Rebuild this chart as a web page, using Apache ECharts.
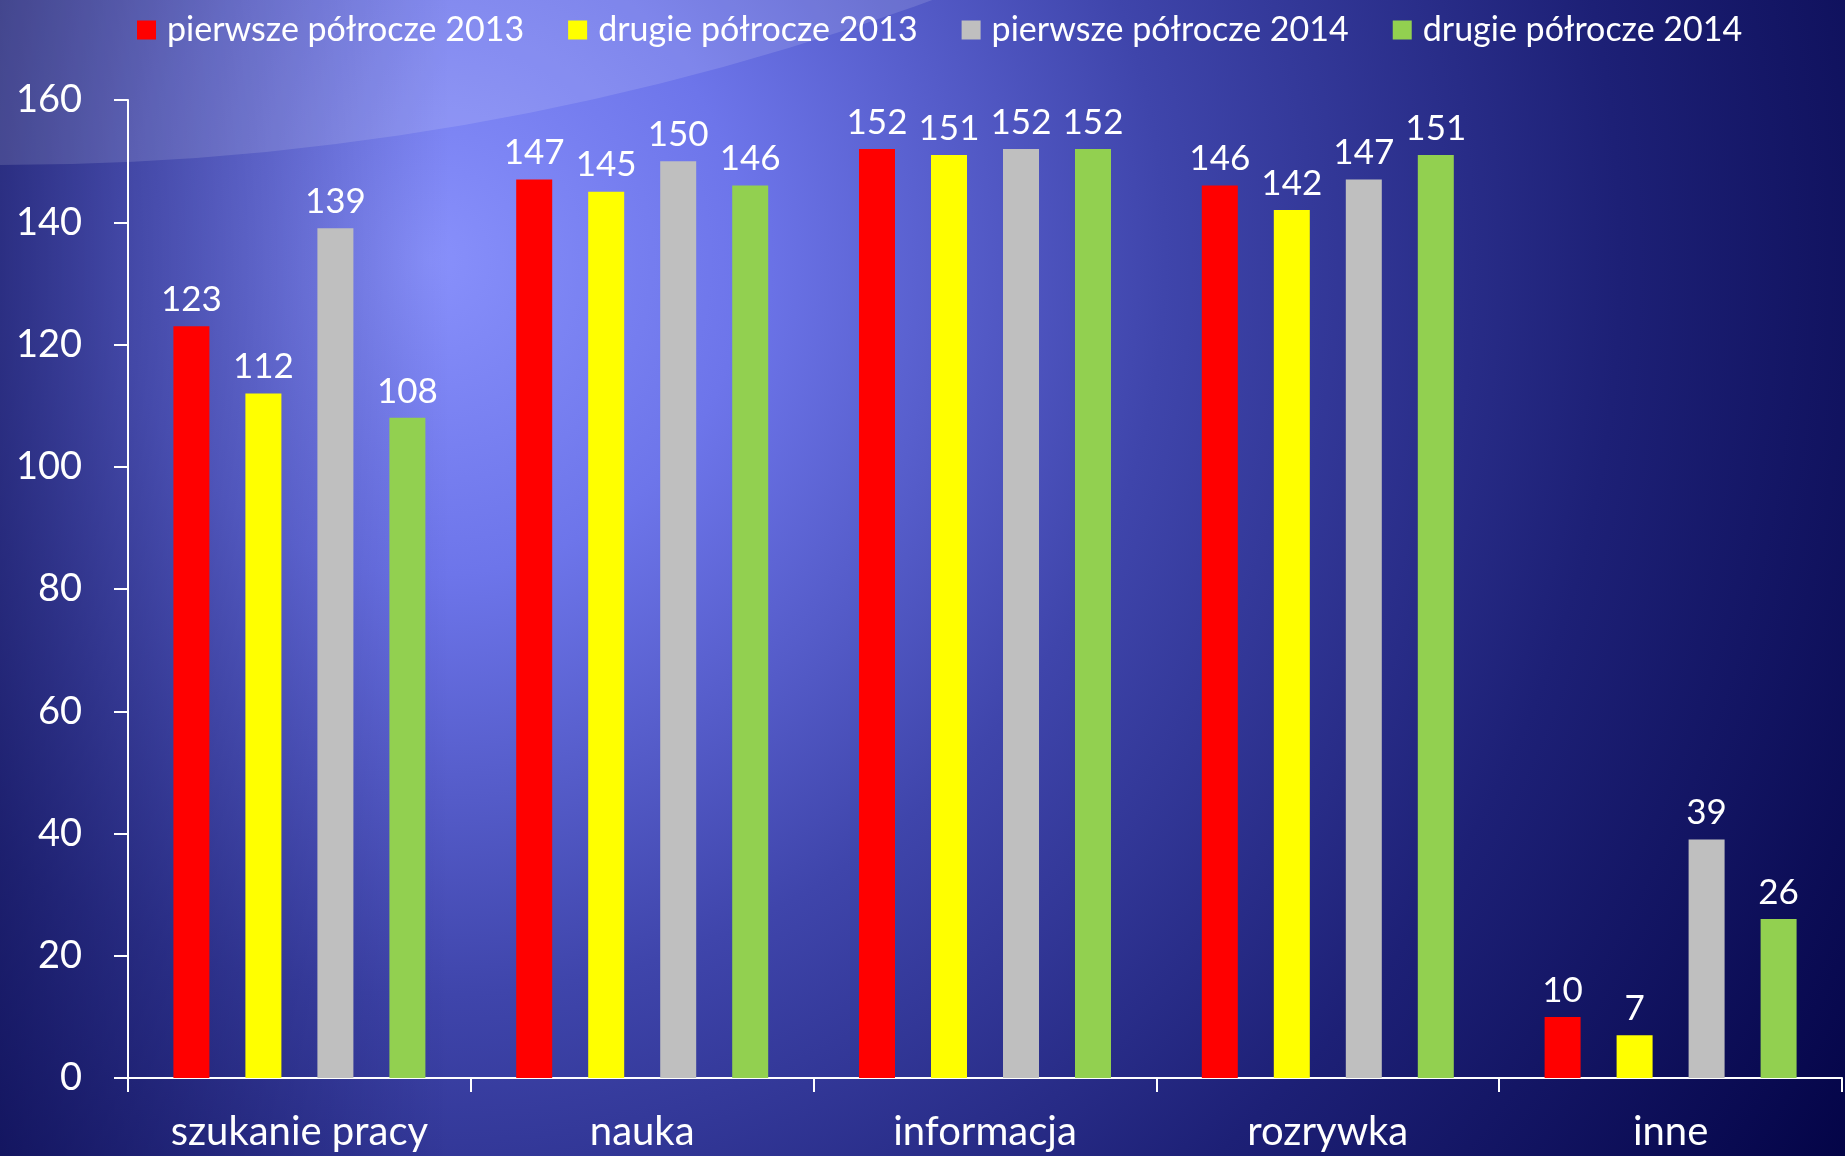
<!DOCTYPE html>
<html>
<head>
<meta charset="utf-8">
<script src="https://cdn.jsdelivr.net/npm/echarts@6/dist/echarts.min.js"></script>
<style>
html,body{margin:0;padding:0;width:1845px;height:1156px;overflow:hidden;background:#000040;}
#chart{width:1845px;height:1156px;}
</style>
</head>
<body>
<div id="chart"></div>
<script>
var categories = ['szukanie pracy', 'nauka', 'informacja', 'rozrywka', 'inne'];
var seriesNames = ['pierwsze półrocze 2013', 'drugie półrocze 2013', 'pierwsze półrocze 2014', 'drugie półrocze 2014'];
var h1_2013 = [123, 147, 152, 146, 10];
var h2_2013 = [112, 145, 151, 142, 7];
var h1_2014 = [139, 150, 152, 147, 39];
var h2_2014 = [108, 146, 152, 151, 26];
var yTicks = [0, 20, 40, 60, 80, 100, 120, 140, 160];

var colors = ['#ff0000', '#ffff00', '#bfbfbf', '#92d050'];
var seriesData = [h1_2013, h2_2013, h1_2014, h2_2014];
var FONT = 'Lato, "Open Sans", sans-serif';

var chart = echarts.init(document.getElementById('chart'));

var series = seriesNames.map(function (name, i) {
  return {
    name: name,
    type: 'bar',
    data: seriesData[i],
    barWidth: 36,
    barGap: '100%',
    itemStyle: { color: colors[i] },
    label: {
      show: true,
      position: 'top',
      distance: 9,
      color: '#ffffff',
      fontFamily: FONT,
      fontSize: 35
    }
  };
});

var option = {
  backgroundColor: {
    type: 'radial', x: 430, y: 260, r: 1750, global: true,
    colorStops: [
      { offset: 0, color: '#8890fb' },
      { offset: 0.18, color: '#6d75ea' },
      { offset: 0.42, color: '#3f45ab' },
      { offset: 0.68, color: '#1d2076' },
      { offset: 1, color: '#000040' }
    ]
  },
  graphic: [
    {
      type: 'rect', z: -20, silent: true,
      shape: { x: 0, y: 0, width: 450, height: 1156 },
      style: {
        fill: {
          type: 'linear', x: 0, y: 0, x2: 1, y2: 0,
          colorStops: [
            { offset: 0, color: 'rgba(0,0,60,0.55)' },
            { offset: 1, color: 'rgba(0,0,60,0)' }
          ]
        }
      }
    },
    {
      type: 'circle', z: -10, silent: true,
      shape: { cx: 0, cy: -2552, r: 2717 },
      style: { fill: 'rgba(255,255,255,0.13)' }
    }
  ],
  color: colors,
  legend: {
    top: 8,
    left: 132,
    itemWidth: 19,
    itemHeight: 19,
    itemGap: 44,
    icon: 'rect',
    textStyle: {
      color: '#ffffff',
      fontFamily: FONT,
      fontSize: 34,
      padding: [0, 0, 0, 6]
    },
    data: seriesNames
  },
  grid: {
    left: 128,
    right: 3,
    top: 100,
    bottom: 78,
    containLabel: false
  },
  xAxis: {
    type: 'category',
    data: categories,
    axisLine: { lineStyle: { color: '#ffffff', width: 2 } },
    axisTick: { show: true, length: 14, lineStyle: { color: '#ffffff', width: 2 } },
    axisLabel: {
      color: '#ffffff',
      fontFamily: FONT,
      fontSize: 40,
      margin: 34
    },
    splitLine: { show: false }
  },
  yAxis: {
    type: 'value',
    min: yTicks[0],
    max: yTicks[yTicks.length - 1],
    interval: 20,
    axisLine: { show: true, lineStyle: { color: '#ffffff', width: 2 } },
    axisTick: { show: true, length: 14, lineStyle: { color: '#ffffff', width: 2 } },
    axisLabel: {
      color: '#ffffff',
      fontFamily: FONT,
      fontSize: 38,
      margin: 46
    },
    splitLine: { show: false }
  },
  series: series
};

chart.setOption(option);
</script>
</body>
</html>
